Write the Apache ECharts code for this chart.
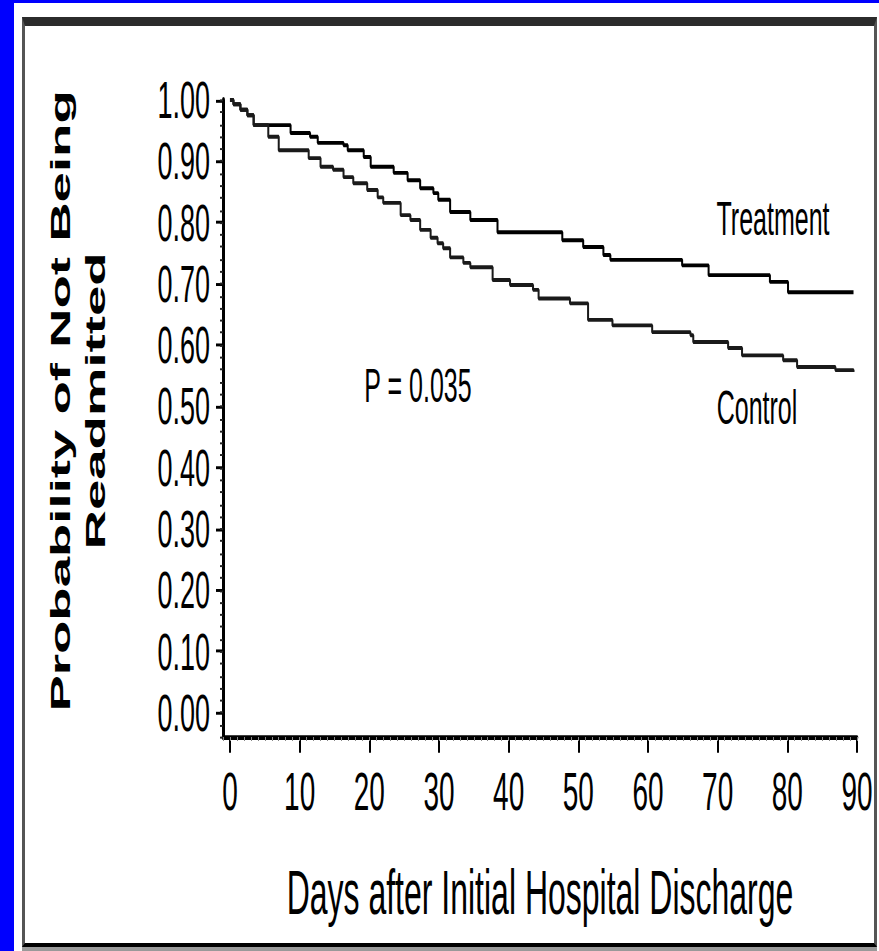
<!DOCTYPE html>
<html>
<head>
<meta charset="utf-8">
<title>Probability of Not Being Readmitted</title>
<script src="https://cdn.jsdelivr.net/npm/echarts@6/dist/echarts.min.js"></script>
<style>
html, body { margin: 0; padding: 0; width: 879px; height: 951px; overflow: hidden; background: #fff; }
#blueLeft { position: absolute; left: 0; top: 0; width: 14px; height: 951px; background: #0000fe; }
#blueTop { position: absolute; left: 0; top: 0; width: 879px; height: 3px; background: #0000fe; }
#frame { position: absolute; left: 22px; top: 17px; width: 855px; height: 930px; box-sizing: border-box;
         border-top: 9px solid #2b2b2b; border-left: 3px solid #555; border-right: 3px solid #555; border-bottom: 4px solid #000; }
#strip { position: absolute; left: 22px; top: 947px; width: 855px; height: 4px; background: #999; }
/* the picture is stretched vertically, so the chart is drawn flat and scaled */
#main { position: absolute; left: 0; top: 0; width: 879px; height: 488px; transform: scaleY(1.9488); transform-origin: 0 0; }
</style>
</head>
<body>
<div id="blueLeft"></div>
<div id="blueTop"></div>
<div id="frame"></div>
<div id="strip"></div>
<div id="main"></div>
<script>
// Kaplan-Meier steps: day of each drop and the value after it
var treatDays = [0, 0.5, 1.5, 2.5, 3.4, 8.7, 11.5, 12.6, 16.3, 16.9, 19.2, 20.2, 23.5, 25.5, 27.3, 29.2, 29.9,
                 31.6, 34.5, 38.4, 47.7, 50.7, 53.6, 54.6, 64.9, 68.7, 77.5, 80.1, 89.5];
var treatSurv = [1.0, 0.993, 0.984, 0.975, 0.959, 0.946, 0.940, 0.930, 0.926, 0.918, 0.907, 0.891, 0.881, 0.869, 0.856, 0.848, 0.837,
                 0.817, 0.804, 0.784, 0.771, 0.760, 0.747, 0.739, 0.730, 0.714, 0.703, 0.686, 0.686];

var ctrlDays = [0, 0.5, 1.5, 2.5, 3.4, 5.5, 7, 11.3, 13, 14.8, 16.3, 17.7, 19.7, 21.2, 22, 24.5, 25.9, 27.3, 28.8,
                29.8, 30.6, 31.6, 33.5, 34.5, 37.7, 40.2, 43.5, 44.3, 48.8, 51.4, 54.9, 60.6, 66.1, 66.5,
                71.5, 73.5, 79.4, 81.4, 86.9, 89.5];
var ctrlSurv = [1.0, 0.993, 0.984, 0.975, 0.959, 0.940, 0.918, 0.905, 0.891, 0.886, 0.874, 0.864, 0.853, 0.841, 0.832, 0.812, 0.804, 0.788, 0.775,
                0.766, 0.758, 0.743, 0.734, 0.727, 0.706, 0.698, 0.690, 0.676, 0.668, 0.641, 0.632, 0.621, 0.616, 0.605,
                0.595, 0.583, 0.575, 0.564, 0.559, 0.556];

var xTicks = [0, 10, 20, 30, 40, 50, 60, 70, 80, 90];
var yTicks = [0, 0.1, 0.2, 0.3, 0.4, 0.5, 0.6, 0.7, 0.8, 0.9, 1.0];

var FONT = "'Liberation Sans', Arial, Helvetica, sans-serif";

function pairs(days, vals) {
    return days.map(function (d, i) { return [d, vals[i]]; });
}

var myChart = echarts.init(document.getElementById('main'), null, { renderer: 'svg' });

var option = {
    animation: false,
    grid: { left: 223, right: 22, top: 51.3, bottom: 109.8, outerBoundsMode: 'none' },
    xAxis: [
        {
            type: 'value', min: -1, max: 90,
            name: 'Days after Initial Hospital Discharge',
            nameLocation: 'middle', nameGap: 64,
            nameTextStyle: { fontFamily: FONT, fontSize: 32, color: '#000' },
            axisLine: { onZero: false, lineStyle: { color: '#000', width: 2.5 } },
            axisTick: { customValues: xTicks, length: 8, lineStyle: { color: '#000', width: 2 } },
            axisLabel: { customValues: xTicks, margin: 14, fontFamily: FONT, fontSize: 28, color: '#000' },
            splitLine: { show: false }
        },
        {
            // small day ticks along the axis
            type: 'value', min: -1, max: 90, interval: 1, position: 'bottom',
            axisLine: { show: false, onZero: false },
            axisTick: { length: 2, lineStyle: { color: '#888', width: 1 } },
            axisLabel: { show: false },
            splitLine: { show: false }
        }
    ],
    yAxis: [
        {
            type: 'value', min: -0.04, max: 1,
            name: 'Probability of Not Being\nReadmitted',
            nameLocation: 'middle', nameGap: 110,
            nameTextStyle: {
                fontFamily: FONT, fontSize: 28, fontWeight: 'bold', lineHeight: 35, color: '#000',
                align: 'center', padding: [0, 0, 0, 18]
            },
            axisLine: { onZero: false, lineStyle: { color: '#000', width: 3 } },
            axisTick: { customValues: yTicks, length: 7, lineStyle: { color: '#000', width: 1.5 } },
            axisLabel: {
                customValues: yTicks, margin: 13, fontFamily: FONT, fontSize: 27, color: '#000',
                formatter: function (v) { return v.toFixed(2); }
            },
            splitLine: { show: false }
        },
        {
            type: 'value', min: -0.04, max: 1, interval: 0.02, position: 'left',
            axisLine: { show: false, onZero: false },
            axisTick: { length: 3, lineStyle: { color: '#222', width: 1 } },
            axisLabel: { show: false },
            splitLine: { show: false }
        }
    ],
    series: [
        {
            name: 'Treatment', type: 'line', step: 'end',
            xAxisIndex: 0, yAxisIndex: 0,
            data: pairs(treatDays, treatSurv),
            symbol: 'none',
            lineStyle: { color: '#000', width: 2 }
        },
        {
            name: 'Control', type: 'line', step: 'end',
            xAxisIndex: 0, yAxisIndex: 0,
            data: pairs(ctrlDays, ctrlSurv),
            symbol: 'none',
            lineStyle: { color: '#1a1a1a', width: 2 }
        }
    ],
    graphic: [
        { type: 'text', x: 773, y: 112, style: { text: 'Treatment', fontFamily: FONT, fontSize: 25, fill: '#000', align: 'center', verticalAlign: 'middle' } },
        { type: 'text', x: 757, y: 209, style: { text: 'Control', fontFamily: FONT, fontSize: 25, fill: '#000', align: 'center', verticalAlign: 'middle' } },
        { type: 'text', x: 418, y: 197.6, style: { text: 'P = 0.035', fontFamily: FONT, fontSize: 25, fill: '#000', align: 'center', verticalAlign: 'middle' } }
    ]
};

myChart.setOption(option);
</script>
</body>
</html>
